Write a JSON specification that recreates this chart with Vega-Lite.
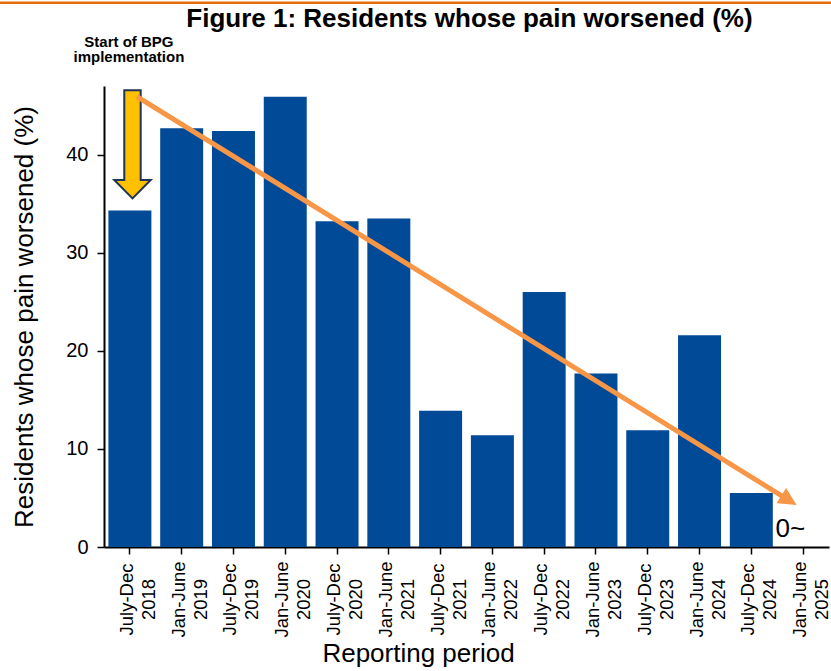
{
  "$schema": "https://vega.github.io/schema/vega-lite/v6.json",
  "width": 725,
  "height": 461,
  "autosize": {"type": "none"},
  "padding": {"left": 104, "top": 86, "right": 2, "bottom": 124},
  "background": "white",
  "config": {
    "font": "Liberation Sans",
    "view": {"stroke": null},
    "axis": {"grid": false, "domainColor": "black", "tickColor": "black", "labelColor": "black", "titleColor": "black"}
  },
  "datasets": {
    "bars": [
      {"period": "July-Dec 2018", "value": 34.3},
      {"period": "Jan-June 2019", "value": 42.7},
      {"period": "July-Dec 2019", "value": 42.4},
      {"period": "Jan-June 2020", "value": 45.9},
      {"period": "July-Dec 2020", "value": 33.2},
      {"period": "Jan-June 2021", "value": 33.5},
      {"period": "July-Dec 2021", "value": 13.9},
      {"period": "Jan-June 2022", "value": 11.4},
      {"period": "July-Dec 2022", "value": 26.0},
      {"period": "Jan-June 2023", "value": 17.7},
      {"period": "July-Dec 2023", "value": 11.9},
      {"period": "Jan-June 2024", "value": 21.6},
      {"period": "July-Dec 2024", "value": 5.5},
      {"period": "Jan-June 2025", "value": 0}
    ],
    "topline": [{"pos": -2.008, "pos2": 14.04, "value": 55.5}],
    "startArrow": [{"pos": 0.55, "value": 41.05}],
    "trend": [{"pos": 0.637, "value": 45.92}, {"pos": 13.227, "value": 4.76}],
    "trendHead": [{"pos": 13.227, "value": 4.76}],
    "titleText": [{"pos": 7.057, "value": 53.01, "label": "Figure 1: Residents whose pain worsened (%)"}],
    "note": [{"pos": 0.481, "value": 51.0, "label": ["Start of BPG", "implementation"]}],
    "zeroNote": [{"pos": 13.255, "value": 1.02, "label": "0~"}]
  },
  "layer": [
    {
      "data": {"name": "bars"},
      "mark": {"type": "bar", "color": "#004A98"},
      "encoding": {
        "x": {
          "field": "period", "type": "nominal", "sort": null,
          "scale": {"paddingInner": 0.17, "paddingOuter": 0.085},
          "axis": {
            "title": "Reporting period", "titleFontSize": 26, "titleFontWeight": "normal", "titleX": 314, "titlePadding": 3,
            "labelExpr": "split(datum.label, ' ')",
            "labelAngle": 270, "labelAlign": "center", "labelBaseline": "middle",
            "labelPadding": 45, "labelFontSize": 18.5, "labelLineHeight": 22, "labelOffset": -3,
            "tickSize": 7, "tickWidth": 1.5, "domainWidth": 2
          }
        },
        "y": {
          "field": "value", "type": "quantitative",
          "scale": {"domain": [0, 47], "nice": false, "zero": true},
          "axis": {
            "title": "Residents whose pain worsened (%)", "titleFontSize": 26, "titleFontWeight": "normal", "titlePadding": 28,
            "values": [0, 10, 20, 30, 40], "labelFontSize": 20, "labelPadding": 9,
            "tickSize": 7, "tickWidth": 1.5, "domainWidth": 2
          }
        }
      }
    },
    {
      "layer": [
        {
          "data": {"name": "topline"},
          "mark": {"type": "rule", "color": "#E46C0A", "strokeWidth": 2.5},
          "encoding": {
            "x": {"field": "pos", "type": "quantitative", "scale": {"domain": [0, 14], "nice": false, "zero": false}, "axis": null},
            "x2": {"field": "pos2"},
            "y": {"field": "value", "type": "quantitative", "title": "Residents whose pain worsened (%)"}
          }
        },
        {
          "data": {"name": "startArrow"},
          "mark": {
            "type": "point", "filled": true, "opacity": 1,
            "shape": "M-0.152,-1L0.152,-1L0.152,0.661L0.337,0.661L0,1L-0.337,0.661L-0.152,0.661Z",
            "size": 11664, "fill": "#FFC000", "stroke": "#1F3557", "strokeWidth": 2
          },
          "encoding": {
            "x": {"field": "pos", "type": "quantitative", "scale": {"domain": [0, 14], "nice": false, "zero": false}, "axis": null},
            "y": {"field": "value", "type": "quantitative", "title": "Residents whose pain worsened (%)"}
          }
        },
        {
          "data": {"name": "trend"},
          "mark": {"type": "line", "color": "#F79646", "strokeWidth": 5},
          "encoding": {
            "x": {"field": "pos", "type": "quantitative", "scale": {"domain": [0, 14], "nice": false, "zero": false}, "axis": null},
            "y": {"field": "value", "type": "quantitative", "title": "Residents whose pain worsened (%)"}
          }
        },
        {
          "data": {"name": "trendHead"},
          "mark": {
            "type": "point", "filled": true, "opacity": 1,
            "shape": "M1,0L-1,-1L-1,1Z", "size": 324, "angle": 31.8,
            "fill": "#F79646", "strokeWidth": 0
          },
          "encoding": {
            "x": {"field": "pos", "type": "quantitative", "scale": {"domain": [0, 14], "nice": false, "zero": false}, "axis": null},
            "y": {"field": "value", "type": "quantitative", "title": "Residents whose pain worsened (%)"}
          }
        },
        {
          "data": {"name": "titleText"},
          "mark": {"type": "text", "fontSize": 26, "fontWeight": "bold", "align": "center", "baseline": "alphabetic", "color": "black"},
          "encoding": {
            "x": {"field": "pos", "type": "quantitative", "scale": {"domain": [0, 14], "nice": false, "zero": false}, "axis": null},
            "y": {"field": "value", "type": "quantitative", "title": "Residents whose pain worsened (%)"},
            "text": {"field": "label"}
          }
        },
        {
          "data": {"name": "note"},
          "mark": {"type": "text", "fontSize": 15, "fontWeight": "bold", "align": "center", "baseline": "alphabetic", "lineHeight": 15.5, "color": "black"},
          "encoding": {
            "x": {"field": "pos", "type": "quantitative", "scale": {"domain": [0, 14], "nice": false, "zero": false}, "axis": null},
            "y": {"field": "value", "type": "quantitative", "title": "Residents whose pain worsened (%)"},
            "text": {"field": "label"}
          }
        },
        {
          "data": {"name": "zeroNote"},
          "mark": {"type": "text", "fontSize": 26, "align": "center", "baseline": "alphabetic", "color": "black"},
          "encoding": {
            "x": {"field": "pos", "type": "quantitative", "scale": {"domain": [0, 14], "nice": false, "zero": false}, "axis": null},
            "y": {"field": "value", "type": "quantitative", "title": "Residents whose pain worsened (%)"},
            "text": {"field": "label"}
          }
        }
      ]
    }
  ],
  "resolve": {"scale": {"x": "independent"}, "axis": {"x": "independent"}}
}
